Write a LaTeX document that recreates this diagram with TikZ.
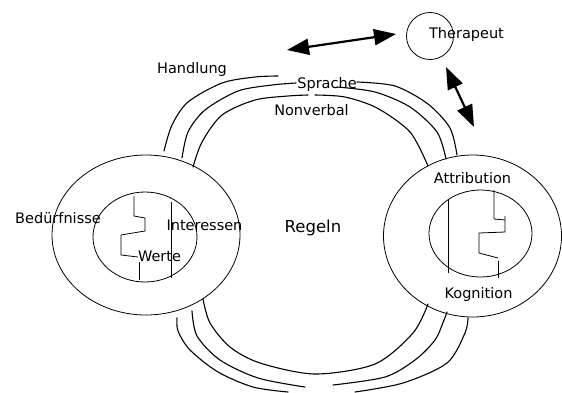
\documentclass[tikz,border=0pt]{standalone}
\usepackage{fontspec}
\setmainfont{DejaVu Sans}
\usetikzlibrary{arrows.meta,shapes.geometric}
\begin{document}
\begin{tikzpicture}[x=1pt,y=-1pt,
  ell/.style={draw, ellipse, inner sep=0pt, line width=0.8pt},
  lbl/.style={inner sep=0pt, anchor=base, font=\fontsize{14.5}{17}\selectfont},
  arcline/.style={line width=1.1pt, line cap=round},
  thinline/.style={line width=0.8pt},
  dblarrow/.style={line width=2.2pt, {Triangle[length=22pt,width=16pt]}-{Triangle[length=22pt,width=16pt]}}]
\useasboundingbox (0,0) rectangle (562,392);

% ellipses
\node[ell, minimum width=188pt, minimum height=160pt] (lo) at (146,235) {};
\node[ell, minimum width=104pt, minimum height=90pt] (li) at (145,237) {};
\node[ell, minimum width=178pt, minimum height=162pt] (ro) at (472.5,236) {};
\node[ell, minimum width=103pt, minimum height=87pt] (ri) at (480.5,233.5) {};
\node[draw, circle, minimum size=47pt, inner sep=0pt, line width=0.8pt] (th) at (430,36) {};

% inner lines left
\draw[thinline] (134,196) -- (134,216) -- (145,218) -- (145,231) -- (121,235) -- (121,255) -- (138,257);
\draw[thinline] (139,262) -- (139,280);
\draw[thinline] (171,202) -- (171,278);
% inner lines right
\draw[thinline] (448,200) -- (448,273);
\draw[thinline] (494,190) -- (494,219) -- (505,220);
\draw[thinline] (505,216) -- (505,232) -- (479,233) -- (479,253) -- (498,258);
\draw[thinline] (498,261) -- (498,278);

% top arcs
\draw[arcline] plot[smooth] coordinates {(164,151) (172,125) (188,102) (222,83) (255,77) (278,76)};
\draw[arcline] plot[smooth] coordinates {(182,158) (188,132) (205,110) (238,91) (272,85) (296,83)};
\draw[arcline] plot[smooth] coordinates {(357,82) (395,86) (428,104) (450,128) (457,155)};
\draw[arcline] plot[smooth] coordinates {(337,87) (375,92) (410,107) (437,132) (446,159)};
\draw[arcline] plot[smooth] coordinates {(193,167) (202,142) (222,115) (255,100) (288,96) (308,95)};
\draw[arcline] plot[smooth] coordinates {(315,95) (345,97) (377,108) (410,132) (428,166)};

% bottom arcs
\draw[arcline] plot[smooth] coordinates {(203,299) (210,323) (230,347) (260,363) (315,374) (375,364) (413,333) (428,304)};
\draw[arcline] plot[smooth] coordinates {(192,311) (197,336) (220,360) (258,378) (305,387)};
\draw[arcline] plot[smooth] coordinates {(333,385) (385,377) (415,360) (435,340) (444,320) (447,312)};
\draw[arcline] plot[smooth] coordinates {(177,318) (178,331) (190,350) (218,372) (253,387) (288,392)};
\draw[arcline] plot[smooth] coordinates {(355,392) (403,383) (447,363) (465,333) (468,318)};

% arrows
\coordinate (a1) at (287,50);
\coordinate (a2) at (396,34);
\coordinate (b1) at (446,67);
\coordinate (b2) at (474,127);
\draw[dblarrow] (a1) -- (a2);
\draw[dblarrow] (b1) -- (b2);

% labels
\node[lbl] (tBed) at (58,223) {Bedürfnisse};
\node[lbl] (tInt) at (204.5,230) {Interessen};
\node[lbl] (tWer) at (159.5,261) {Werte};
\node[lbl, font=\fontsize{16.5}{19}\selectfont] (tReg) at (313,232) {Regeln};
\node[lbl] (tHan) at (192,73) {Handlung};
\node[lbl] (tSpr) at (327,88) {Sprache};
\node[lbl] (tNon) at (311.5,115) {Nonverbal};
\node[lbl] (tAtt) at (472.5,183) {Attribution};
\node[lbl] (tKog) at (478.5,298) {Kognition};
\node[lbl] (tThe) at (466.5,38.5) {Therapeut};
\end{tikzpicture}
\end{document}
